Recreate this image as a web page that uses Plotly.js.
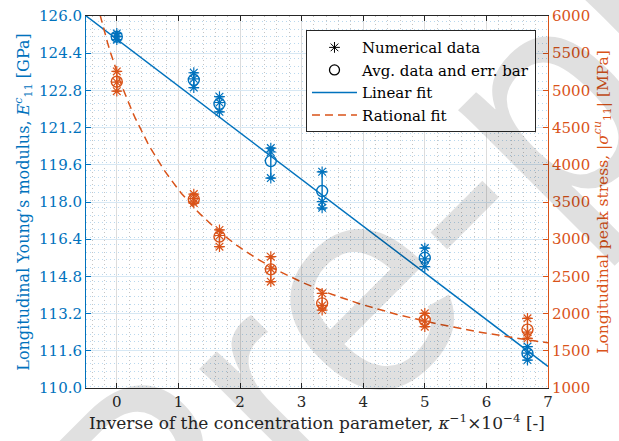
<!DOCTYPE html>
<html>
<head>
<meta charset="utf-8">
<script src="https://cdn.plot.ly/plotly-3.0.1.min.js"></script>
<style>
  html, body { margin: 0; padding: 0; background: #ffffff; }
  #chart { width: 619px; height: 441px; }
</style>
</head>
<body>
<div id="chart"></div>
<script>
// Inverse concentration parameter (x 10^-4)
const kappaInv = [0, 1.25, 1.6667, 2.5, 3.3333, 5, 6.6667];

// Young's modulus E11 [GPa]: individual runs, averages and min/max bounds
const modulusRuns = [
  [125.25, 125.12, 124.98],
  [123.56, 123.30, 122.92],
  [122.53, 122.28, 121.88],
  [120.32, 120.15, 119.03],
  [119.30, 118.02, 117.75],
  [116.02, 115.55, 115.22],
  [111.78, 111.50, 111.20]
];
const modulusAvg  = [125.11, 123.25, 122.22, 119.76, 118.47, 115.60, 111.49];
const modulusHigh = [125.25, 123.56, 122.53, 120.32, 119.30, 116.02, 111.78];
const modulusLow  = [124.98, 122.92, 121.88, 119.03, 117.70, 115.22, 111.20];

// Peak stress |sigma11| [MPa]: individual runs, averages and min/max bounds
const stressRuns = [
  [5255, 5110, 4990],
  [3607, 3545, 3485],
  [3124, 3050, 2899],
  [2765, 2600, 2429],
  [2272, 2110, 2048],
  [2004, 1900, 1824],
  [1937, 1750, 1668]
];
const stressAvg  = [5117, 3536, 3034, 2595, 2138, 1914, 1785];
const stressHigh = [5255, 3607, 3124, 2765, 2272, 2004, 1937];
const stressLow  = [4990, 3485, 2899, 2429, 2048, 1824, 1668];

// Fitted models
const linearFit = { intercept: 125.0, slope: -2.01 };            // E = a + b x
const rationalFit = { p1: 600, p2: 10169, q1: 1.937 };           // s = (p1 x + p2) / (x + q1)

const blue = '#0072BD';
const orange = '#D95319';
const dark = '#262626';
const serif = 'DejaVu Serif';

// Flatten the individual runs
const runX = [], runE = [], runXS = [], runS = [];
kappaInv.forEach((k, i) => {
  modulusRuns[i].forEach(v => { runX.push(k); runE.push(v); });
  stressRuns[i].forEach(v => { runXS.push(k); runS.push(v); });
});

// Fit curves evaluated on the axis span
const fitX = [];
for (let i = 0; i <= 150; i++) fitX.push(-0.5 + 7.5 * i / 150);
const fitE = fitX.map(x => linearFit.intercept + linearFit.slope * x);
const fitS = fitX.map(x => (rationalFit.p1 * x + rationalFit.p2) / (x + rationalFit.q1));

const traces = [
  // legend-only entries (black symbols)
  { x: [null], y: [null], mode: 'markers', name: 'Numerical data',
    marker: { symbol: 'asterisk-open', size: 9, color: '#000', line: { color: '#000', width: 1 } } },
  { x: [null], y: [null], mode: 'markers', name: 'Avg. data and err. bar',
    marker: { symbol: 'circle-open', size: 10, color: '#000', line: { color: '#000', width: 1.3 } } },
  { x: fitX, y: fitE, mode: 'lines', name: 'Linear fit',
    line: { color: blue, width: 1.5 }, hoverinfo: 'skip' },
  { x: fitX, y: fitS, yaxis: 'y2', mode: 'lines', name: 'Rational fit',
    line: { color: orange, width: 1.5, dash: '8px,5px' }, hoverinfo: 'skip' },

  // modulus data
  { x: runX, y: runE, mode: 'markers', showlegend: false,
    marker: { symbol: 'asterisk-open', size: 9, color: blue, line: { color: blue, width: 1.2 } } },
  { x: kappaInv, y: modulusAvg, mode: 'markers', showlegend: false,
    marker: { symbol: 'circle-open', size: 11, color: blue, line: { color: blue, width: 1.4 } },
    error_y: { type: 'data', symmetric: false,
      array: modulusHigh.map((h, i) => h - modulusAvg[i]),
      arrayminus: modulusLow.map((l, i) => modulusAvg[i] - l),
      color: blue, thickness: 1.4, width: 4 } },

  // stress data
  { x: runXS, y: runS, yaxis: 'y2', mode: 'markers', showlegend: false,
    marker: { symbol: 'asterisk-open', size: 9, color: orange, line: { color: orange, width: 1.2 } } },
  { x: kappaInv, y: stressAvg, yaxis: 'y2', mode: 'markers', showlegend: false,
    marker: { symbol: 'circle-open', size: 11, color: orange, line: { color: orange, width: 1.4 } },
    error_y: { type: 'data', symmetric: false,
      array: stressHigh.map((h, i) => h - stressAvg[i]),
      arrayminus: stressLow.map((l, i) => stressAvg[i] - l),
      color: orange, thickness: 1.4, width: 4 } }
];

const layout = {
  width: 619, height: 441,
  margin: { l: 86, r: 71, t: 16, b: 53 },
  paper_bgcolor: '#ffffff', plot_bgcolor: '#ffffff',
  font: { family: serif, size: 15, color: dark },
  showlegend: true,
  legend: {
    x: 0.974, y: 0.962, xanchor: 'right', yanchor: 'top',
    bgcolor: '#ffffff', bordercolor: dark, borderwidth: 1,
    font: { family: serif, size: 15, color: '#000' },
    itemwidth: 45, tracegroupgap: 0
  },
  xaxis: {
    range: [-0.5, 7], tick0: 0, dtick: 1, zeroline: false,
    showline: true, linecolor: dark, linewidth: 1, mirror: 'ticks',
    ticks: 'inside', ticklen: 5, tickcolor: dark,
    showgrid: true, gridcolor: '#dcdcdc', gridwidth: 1,
    minor: { dtick: 0.2, showgrid: true, gridcolor: '#c4c4c4', griddash: '1px,3px', gridwidth: 1, ticks: '' },
    tickfont: { family: serif, size: 15, color: dark },
    title: { text: 'Inverse of the concentration parameter, <i>κ</i><sup>−1</sup>×10<sup>−4</sup> [-]',
      font: { family: serif, size: 17, color: dark }, standoff: 7 }
  },
  yaxis: {
    range: [110, 126], tick0: 110, dtick: 1.6, tickformat: '.1f', zeroline: false,
    showline: true, linecolor: blue, linewidth: 1,
    ticks: 'inside', ticklen: 5, tickcolor: blue,
    showgrid: true, gridcolor: '#d7e8f4', gridwidth: 1,
    minor: { dtick: 0.32, showgrid: true, gridcolor: '#b9d8ee', griddash: '1px,3px', gridwidth: 1, ticks: '' },
    tickfont: { family: serif, size: 15, color: blue },
    title: { text: 'Longitudinal Young\u2019s modulus, <i>E</i><sup><i>c</i></sup><sub>11</sub> [GPa]',
      font: { family: serif, size: 16, color: blue }, standoff: 5 }
  },
  yaxis2: {
    range: [1000, 6000], tick0: 1000, dtick: 500, overlaying: 'y', side: 'right',
    zeroline: false, showgrid: false,
    showline: true, linecolor: orange, linewidth: 1,
    ticks: 'inside', ticklen: 5, tickcolor: orange,
    tickfont: { family: serif, size: 15, color: orange },
    title: { text: 'Longitudinal peak stress, |<i>σ</i><sup><i>cu</i></sup><sub>11</sub>| [MPa]',
      font: { family: serif, size: 15.5, color: orange }, standoff: 7 }
  },
  annotations: [{
    text: 'Pre-print', xref: 'paper', yref: 'paper', x: 1.09, y: 0.81,
    xshift: -100, yshift: -70,
    xanchor: 'center', yanchor: 'middle', showarrow: false, textangle: -45,
    font: { family: 'Liberation Sans', size: 300, color: 'rgba(0,0,0,0.12)' }
  }]
};

Plotly.newPlot('chart', traces, layout, { displayModeBar: false, staticPlot: true });
</script>
</body>
</html>
